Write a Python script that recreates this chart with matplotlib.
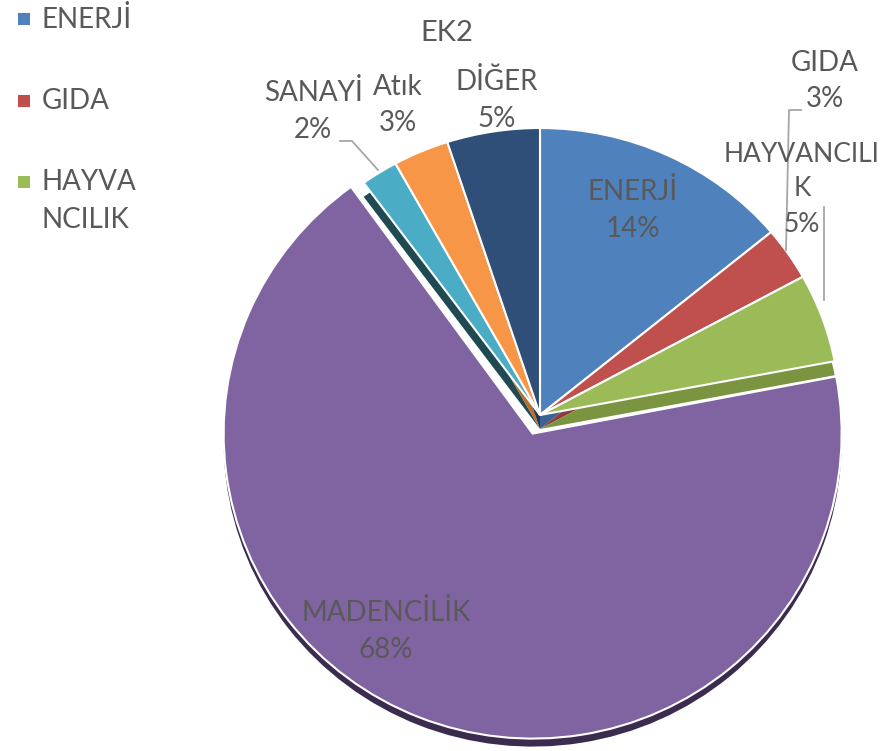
import matplotlib
matplotlib.use("Agg")
import matplotlib.pyplot as plt
from matplotlib.patches import Rectangle
from matplotlib.transforms import Affine2D
import numpy as np

categories = ["ENERJİ", "GIDA", "HAYVANCILIK", "MADENCİLİK", "SANAYİ", "Atık", "DİĞER"]
values = [14, 3, 5, 68, 2, 3, 5]
colors = ["#4F81BD", "#C0504D", "#9BBB59", "#8064A2", "#4BACC6", "#F79646", "#2F4F78"]
side_colors = ["#3A6393", "#8F3B39", "#7A9440", "#3B2C4F", "#1F4A52", "#B86E30", "#1F3550"]
legend_labels = ["ENERJİ", "GIDA", "HAYVA\nNCILIK"]
title = "EK2"

TXT = "#595959"
plt.rcParams['font.family'] = ["Lato", 'DejaVu Sans']

W, H = 882, 751
fig = plt.figure(figsize=(W / 100, H / 100), dpi=100)
ax = fig.add_axes([0, 0, 1, 1])

cx, cy = 540, H - 415
R = 300
ry_ratio = 287 / 300
big_R = 309
big_ry_ratio = 305 / 309
explode = [0, 0, 0, 20, 0, 0, 0]   # data units (pixels)
depth = 14
big_depth = 8


def draw_layer(col, side, edge, lw):
    wedges, _ = ax.pie(values, colors=col, startangle=90, counterclock=False,
                       explode=explode, center=(cx, cy), radius=R,
                       wedgeprops=dict(edgecolor=edge, linewidth=lw), frame=True)
    for i, w in enumerate(wedges):
        if i == 3:
            dy = -big_depth if side else 0
            w.set_radius(big_R)
            wcx, wcy = w.center
            t = Affine2D().translate(-wcx, -wcy).scale(1, big_ry_ratio).translate(wcx, wcy + dy)
        else:
            dy = -depth if side else 0
            t = Affine2D().translate(-cx, -cy).scale(1, ry_ratio).translate(cx, cy + dy)
        w.set_transform(t + ax.transData)
    return wedges


draw_layer(side_colors, True, "none", 0)
draw_layer(colors, False, "white", 1.5)

ax.set_xlim(0, W)
ax.set_ylim(0, H)
ax.set_aspect('equal')
ax.axis('off')

fs = 20


def lab(x, y, s, size=fs):
    ax.text(x, H - y, s, ha="center", va="center", fontsize=size, color=TXT,
            linespacing=1.5)


lab(633, 210, "ENERJİ\n14%")
lab(825, 81, "GIDA\n3%")
lab(802, 189, "HAYVANCILI\nK\n5%", size=19)
lab(386, 631, "MADENCİLİK\n68%")
lab(313, 111, "SANAYİ\n2%")
lab(398, 105, "Atık\n3%")
lab(497, 100, "DİĞER\n5%")

ax.text(447, H - 33, title, ha="center", va="center", fontsize=21, color=TXT)

lc = "#A6A6A6"
ax.plot([340, 352, 378], [H - 141, H - 141, H - 170], color=lc, lw=1.3)
ax.plot([801, 789, 786], [H - 110, H - 110, H - 250], color=lc, lw=1.3)
ax.plot([824, 824], [H - 207, H - 300], color=lc, lw=1.3)

# legend (first three categories, as in the reference)
leg_y = [19, 101, 182]
for i, (lbl, y) in enumerate(zip(legend_labels, leg_y)):
    ax.add_patch(Rectangle((18, H - y - 6), 12, 12, facecolor=colors[i],
                           edgecolor="none"))
    for k, line in enumerate(lbl.split("\n")):
        ax.text(42, H - y - 38 * k, line, ha="left", va="center",
                fontsize=fs, color=TXT)

fig.savefig("out.png", dpi=100)
